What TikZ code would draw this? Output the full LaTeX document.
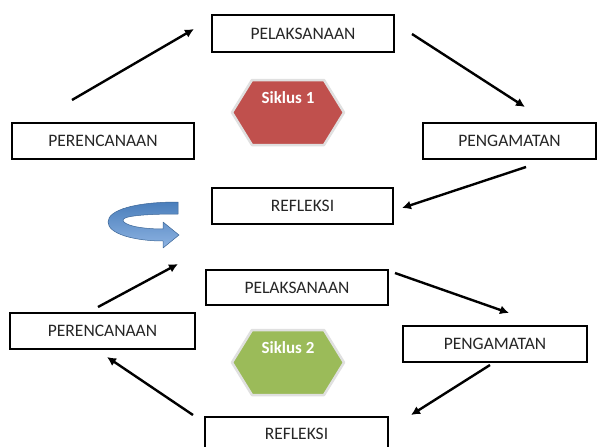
\documentclass[tikz,border=0pt]{standalone}
\usepackage{fontspec}
\setmainfont{Carlito}
\usetikzlibrary{arrows.meta}
\definecolor{sikred}{HTML}{C0504D}
\definecolor{sikgreen}{HTML}{9BBB59}
\definecolor{arrowblueA}{HTML}{4A7EBB}
\definecolor{arrowblueB}{HTML}{8DB3E2}
\begin{document}
\begin{tikzpicture}[x=1pt,y=-1pt,
  stagebox/.style={draw=black,line width=1.5pt,fill=white,inner sep=0pt,text=black!85,
    font=\fontsize{17.5}{20}\selectfont},
  flowarrow/.style={line width=2.4pt,-{Latex[length=9pt,width=9pt]}},
  hexlabel/.style={text=white,font=\bfseries\fontsize{17}{20}\selectfont,inner sep=0pt},
  hexglow/.style={draw=black!12,line width=2.5pt,line join=round}]
\useasboundingbox (0,0) rectangle (598,447);
\fill[white] (0,0) rectangle (598,447);
% top cycle boxes
\node[stagebox,minimum width=182pt,minimum height=37pt] (pel1) at (303,33.5) {PELAKSANAAN};
\node[stagebox,minimum width=182pt,minimum height=36pt] (per1) at (103,141) {PERENCANAAN};
\node[stagebox,minimum width=173pt,minimum height=36pt] (pen1) at (509.5,141) {PENGAMATAN};
\node[stagebox,minimum width=181pt,minimum height=36pt] (ref1) at (302.5,206) {REFLEKSI};
% bottom cycle boxes
\node[stagebox,minimum width=182pt,minimum height=35pt] (pel2) at (297,287.5) {PELAKSANAAN};
\node[stagebox,minimum width=185pt,minimum height=36pt] (per2) at (102.5,331) {PERENCANAAN};
\node[stagebox,minimum width=184pt,minimum height=36pt] (pen2) at (495,344) {PENGAMATAN};
\node[stagebox,minimum width=183pt,minimum height=34pt] (ref2) at (296.5,434) {REFLEKSI};
% hexagons
\path[fill=sikred,hexglow] (232,112.5) -- (252,80) -- (324,80) -- (344,112.5) -- (324,145) -- (252,145) -- cycle;
\node[hexlabel] (sik1) at (288,98) {Siklus 1};
\path[fill=sikgreen,hexglow] (232,362.5) -- (252,330) -- (324,330) -- (344,362.5) -- (324,395) -- (252,395) -- cycle;
\node[hexlabel] (sik2) at (288,348) {Siklus 2};
% arrow end coordinates
\coordinate (a1s) at (72,100);  \coordinate (a1e) at (194,29);
\coordinate (a2s) at (412,34);  \coordinate (a2e) at (525,107);
\coordinate (a3s) at (526,167); \coordinate (a3e) at (402,208);
\coordinate (a4s) at (98,307);  \coordinate (a4e) at (178,264);
\coordinate (a5s) at (395,273); \coordinate (a5e) at (509,313);
\coordinate (a6s) at (490,365); \coordinate (a6e) at (411,415);
\coordinate (a7s) at (193,415); \coordinate (a7e) at (107,357);
\draw[flowarrow] (a1s) -- (a1e);
\draw[flowarrow] (a2s) -- (a2e);
\draw[flowarrow] (a3s) -- (a3e);
\draw[flowarrow] (a4s) -- (a4e);
\draw[flowarrow] (a5s) -- (a5e);
\draw[flowarrow] (a6s) -- (a6e);
\draw[flowarrow] (a7s) -- (a7e);
% curved blue arrow
\path[draw=arrowblueA!80!black,line width=0.5pt,top color=arrowblueA,bottom color=arrowblueB,line join=round]
  (178,202) .. controls (135,202) and (108,210) .. (108,222)
  .. controls (108,234) and (135,241) .. (163,241)
  -- (163,248) -- (179,235) -- (163,222) -- (163,229)
  .. controls (140,229) and (123,225) .. (123,220)
  .. controls (123,216) and (145,214) .. (178,214) -- cycle;
\end{tikzpicture}
\end{document}
